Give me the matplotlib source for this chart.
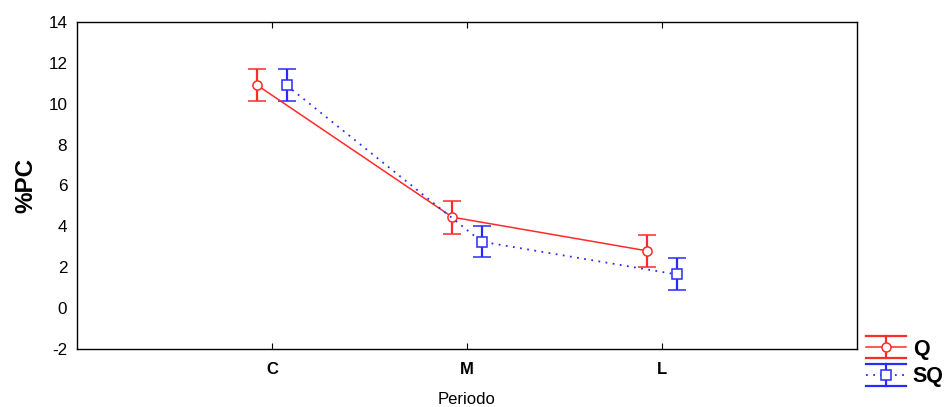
import matplotlib
matplotlib.use("Agg")
import matplotlib.pyplot as plt
from matplotlib.lines import Line2D
from matplotlib.legend_handler import HandlerBase
import numpy as np

plt.rcParams['font.family'] = ['Liberation Sans', 'DejaVu Sans']

categories = ["C", "M", "L"]
q_mean = [10.9, 4.45, 2.8]
q_err = [0.78, 0.8, 0.8]
sq_mean = [10.9, 3.25, 1.65]
sq_err = [0.78, 0.76, 0.78]
series_names = ["Q", "SQ"]
yticks = list(range(-2, 15, 2))

red = "#ff2a2a"
blue = "#2a2aff"
dotted = (0, (1, 3))

fig = plt.figure(figsize=(9.47, 4.07), dpi=100)
ax = fig.add_axes([0.0813, 0.1425, 0.8237, 0.8035])

x = np.arange(1, len(categories) + 1)
off = 0.075

ax.errorbar(x - off, q_mean, yerr=q_err, color=red, lw=1.1, ls='-',
            marker='o', ms=6.6, mfc='white', mec=red, mew=1.1,
            capsize=6.8, capthick=1.6, elinewidth=1.6)
ax.errorbar(x + off, sq_mean, yerr=sq_err, color=blue, lw=1.3, ls=dotted,
            marker='s', ms=6.5, mfc='white', mec=blue, mew=1.1,
            capsize=6.8, capthick=1.6, elinewidth=1.6)

ax.set_xlim(0, 4)
ax.set_ylim(-2, 14)
ax.set_xticks(x)
ax.set_xticklabels(categories, fontweight='bold', fontsize=12)
ax.set_yticks(yticks)
ax.set_yticklabels([str(v) for v in yticks], fontsize=12.3)
ax.tick_params(axis='x', direction='in', top=True, length=4, pad=9)
ax.tick_params(axis='y', length=0, pad=7)
for s in ax.spines.values():
    s.set_linewidth(1.0)
ax.set_ylabel("%PC", fontsize=17.5, fontweight='bold', labelpad=8)
ax.set_xlabel("Periodo", fontsize=12, labelpad=11)


class ErrHandler(HandlerBase):
    def __init__(self, color, marker, ls, lw):
        super().__init__()
        self.color, self.marker, self.ls, self.lw = color, marker, ls, lw

    def create_artists(self, legend, orig_handle, xdescent, ydescent,
                       width, height, fontsize, trans):
        cy = height / 2 - ydescent
        x0, x1 = -xdescent, -xdescent + width
        xm = (x0 + x1) / 2
        d = 8.0
        arts = []
        for yy in (cy + d, cy - d):
            arts.append(Line2D([x0, x1], [yy, yy], color=self.color, lw=1.6))
        arts.append(Line2D([xm, xm], [cy - d, cy + d], color=self.color, lw=1.6))
        arts.append(Line2D([x0, x1], [cy, cy], color=self.color, lw=self.lw, ls=self.ls))
        arts.append(Line2D([xm], [cy], color=self.color, marker=self.marker, ms=6.5,
                           mfc='white', mec=self.color, mew=1.1, ls='none'))
        for a in arts:
            a.set_transform(trans)
        return arts


p1 = Line2D([], [], color=red)
p2 = Line2D([], [], color=blue)
fig.legend(handles=[p1, p2], labels=series_names, loc='center left',
           bbox_to_anchor=(0.9035, 0.108), frameon=False,
           prop={'weight': 'bold', 'size': 15.5}, handlelength=1.85,
           handletextpad=0.3, labelspacing=0.32, borderpad=0,
           handler_map={p1: ErrHandler(red, 'o', '-', 1.1),
                        p2: ErrHandler(blue, 's', dotted, 1.3)})

fig.savefig("out.png", dpi=100)
